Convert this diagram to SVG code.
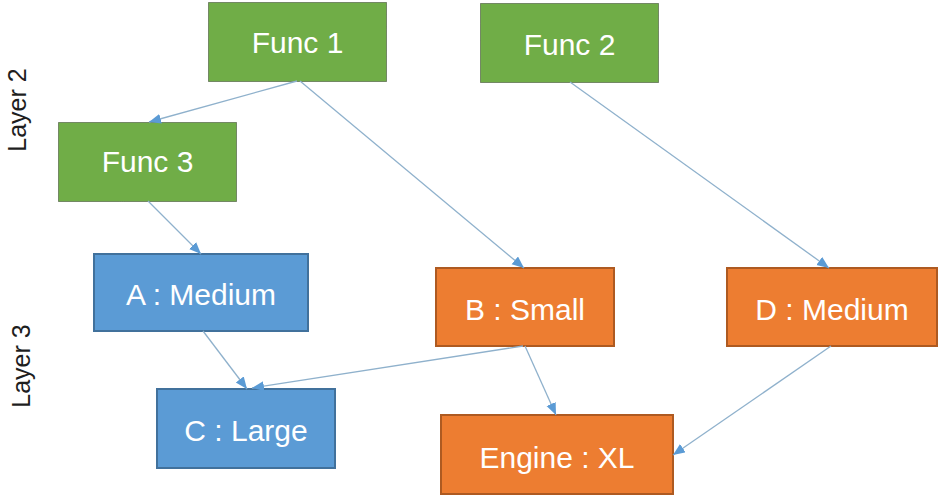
<svg xmlns="http://www.w3.org/2000/svg" width="941" height="498" viewBox="0 0 941 498">
<style>
.lbl{font-family:"Liberation Sans",Arial,sans-serif;font-size:30px;fill:#ffffff;text-anchor:middle}
.layer{font-family:"Liberation Sans",Arial,sans-serif;font-size:25px;fill:#1e1e1e;text-anchor:middle}
.g{fill:#70AD47;stroke:#2e3b26;stroke-width:1;stroke-dasharray:1 1}
.b{fill:#5B9BD5;stroke:#41719C;stroke-width:2}
.o{fill:#ED7D31;stroke:#AE5A21;stroke-width:2}
.c{stroke:#8fb1cc;stroke-width:1.3;fill:none;marker-end:url(#arr)}
</style>
<defs>
<marker id="arr" markerUnits="userSpaceOnUse" markerWidth="13" markerHeight="11" refX="12" refY="5" orient="auto">
<path d="M0,0 L12,5 L0,10 z" fill="#5B9BD5"/>
</marker>
</defs>
<rect width="941" height="498" fill="#ffffff"/>
<text class="layer" transform="translate(26,110) rotate(-90)">Layer 2</text>
<text class="layer" transform="translate(30,366) rotate(-90)">Layer 3</text>
<g id="func1"><rect class="g" x="208.5" y="2.5" width="178" height="79"/><text class="lbl" x="297.5" y="53">Func 1</text></g>
<g id="func2"><rect class="g" x="480.5" y="3.5" width="178" height="79"/><text class="lbl" x="569.5" y="55">Func 2</text></g>
<g id="func3"><rect class="g" x="58.5" y="122.5" width="178" height="79"/><text class="lbl" x="147.5" y="172">Func 3</text></g>
<g id="a"><rect class="b" x="94" y="254" width="214" height="77"/><text class="lbl" x="201" y="305">A : Medium</text></g>
<g id="c"><rect class="b" x="157" y="389" width="178" height="79"/><text class="lbl" x="246" y="441">C : Large</text></g>
<g id="b"><rect class="o" x="436" y="268" width="178" height="78"/><text class="lbl" x="525" y="320">B : Small</text></g>
<g id="d"><rect class="o" x="727" y="268" width="210" height="78"/><text class="lbl" x="832" y="320">D : Medium</text></g>
<g id="engine"><rect class="o" x="441" y="415" width="232" height="79"/><text class="lbl" x="557" y="468">Engine : XL</text></g>
<g id="connectors">
<line class="c" x1="297" y1="81" x2="149" y2="122"/>
<line class="c" x1="300" y1="81" x2="524" y2="268"/>
<line class="c" x1="570" y1="82" x2="829" y2="268"/>
<line class="c" x1="148" y1="201" x2="201" y2="254"/>
<line class="c" x1="203" y1="331" x2="247" y2="389"/>
<line class="c" x1="523" y1="346" x2="252" y2="388"/>
<line class="c" x1="525" y1="346" x2="556" y2="415"/>
<line class="c" x1="831" y1="346" x2="673" y2="455"/>
</g>
</svg>
